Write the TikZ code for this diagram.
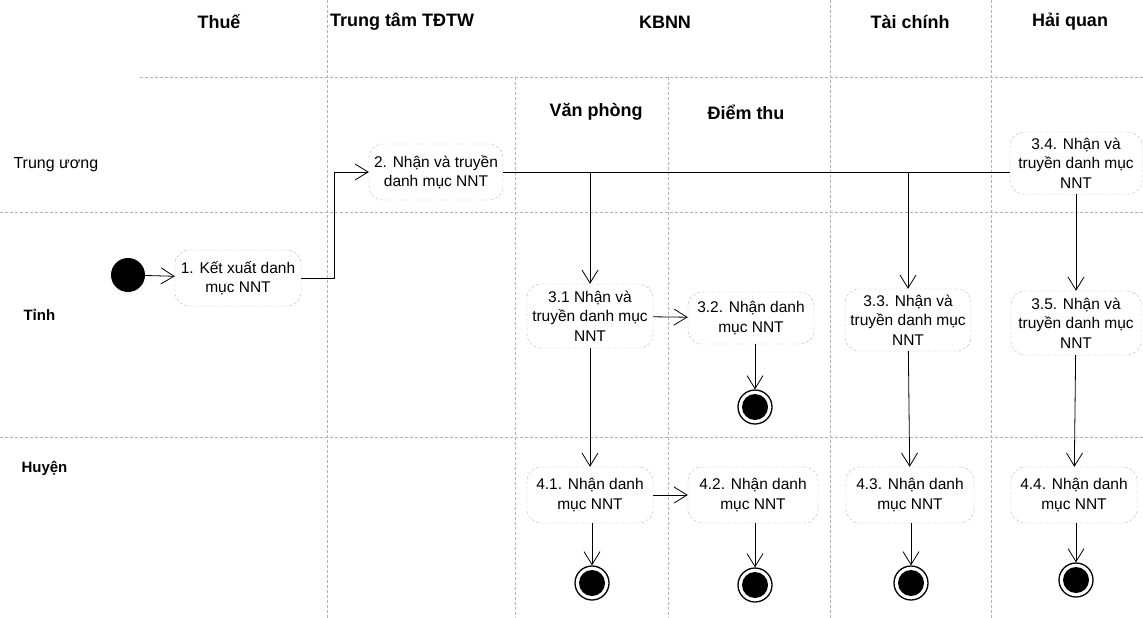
\documentclass[tikz,border=0pt]{standalone}
\usepackage{fontspec}
\setmainfont{Liberation Sans}
\usetikzlibrary{arrows.meta}

\begin{document}
\begin{tikzpicture}[x=1pt,y=-1pt,
	act/.style={draw=gray!55, densely dashed, rounded corners=14pt, align=center, minimum width=126pt, minimum height=56pt, inner sep=1pt, font=\fontsize{15.5}{19.5}\selectfont},
	startnode/.style={circle, fill=black, minimum size=34pt, inner sep=0pt},
	endnode/.style={circle, draw, line width=1.3pt, minimum size=34pt, inner sep=0pt, path picture={\fill (path picture bounding box.center) circle (13pt);}},
	lane/.style={draw=gray!60, densely dashed, line width=0.6pt},
	head/.style={font=\fontsize{18}{20}\selectfont\bfseries},
	row/.style={anchor=west, font=\fontsize{15}{17}\selectfont\bfseries},
	flow/.style={-{Straight Barb[length=13pt,width=16pt]}, line width=0.8pt}]
	
	\useasboundingbox (0,0) rectangle (1143,618);
	
	% swimlanes
	\draw[lane] (140,77) -- (1143,77);
	\draw[lane] (0,212) -- (1143,212);
	\draw[lane] (0,437) -- (1143,437);
	\draw[lane] (327,0) -- (327,618);
	\draw[lane] (515,77) -- (515,618);
	\draw[lane] (668,77) -- (668,618);
	\draw[lane] (830,0) -- (830,618);
	\draw[lane] (991,0) -- (991,618);
	
	\node[head] (thue) at (219,22) {Thuế};
	\node[head] (tdtw) at (402,22) {Trung tâm TĐTW};
	\node[head] (kbnn) at (665,22) {KBNN};
	\node[head] (taichinh) at (910,22) {Tài chính};
	\node[head] (haiquan) at (1070,22) {Hải quan};
	\node[head] (vanphong) at (596,112) {Văn phòng};
	\node[head] (diemthu) at (746,112) {Điểm thu};
	
	\node[row, font=\fontsize{16}{18}\selectfont] (tw) at (10,165) {Trung ương};
	\node[row] (tinh) at (20,315) {Tỉnh};
	\node[row] (huyen) at (18,468) {Huyện};
	
	% activities
	\node[startnode] (start) at (128,275) {};
	\node[act] (1) at (238,278) {1. Kết xuất danh\\mục NNT};
	\node[act, minimum width=134pt] (2) at (436,172) {2. Nhận và truyền\\danh mục NNT};
	\node[act, minimum height=64pt] (31) at (590,316) {3.1 Nhận và\\truyền danh mục\\NNT};
	\node[act, minimum height=52pt] (32) at (751,318) {3.2. Nhận danh\\mục NNT};
	\node[act, minimum height=62pt] (33) at (908,320) {3.3. Nhận và\\truyền danh mục\\NNT};
	\node[act, minimum width=132pt, minimum height=62pt] (34) at (1076,163) {3.4. Nhận và\\truyền danh mục\\NNT};
	\node[act, minimum width=130pt, minimum height=64pt] (35) at (1076,323) {3.5. Nhận và\\truyền danh mục\\NNT};
	\node[act] (41) at (590,495) {4.1. Nhận danh\\mục NNT};
	\node[act, minimum width=130pt] (42) at (753,495) {4.2. Nhận danh\\mục NNT};
	\node[act, minimum width=128pt] (43) at (910,495) {4.3. Nhận danh\\mục NNT};
	\node[act] (44) at (1074,495) {4.4. Nhận danh\\mục NNT};
	
	\node[endnode] (e32) at (755,407) {};
	\node[endnode] (e41) at (592,583) {};
	\node[endnode] (e42) at (755,585) {};
	\node[endnode] (e43) at (911,583) {};
	\node[endnode] (e44) at (1076,580) {};
	
	\coordinate (c12) at (334,172);
	
	% flows
	\path[flow] (start) edge (1);
	\draw[flow] (1.east) -| (c12) -- (2.west);
	\draw[line width=0.8pt] (2.east) -- (2.east -| 34.west);
	\draw[flow] (2.east -| 31.north) -- (31.north);
	\draw[flow] (2.east -| 33.north) -- (33.north);
	\path[flow] (34) edge (35);
	\path[flow] (31) edge (32);
	\path[flow] (31) edge (41);
	\path[flow] (33) edge (43);
	\path[flow] (35) edge (44);
	\path[flow] (41) edge (42);
	\draw[flow] (32.south -| e32) -- (e32);
	\draw[flow] (41.south -| e41) -- (e41);
	\draw[flow] (42.south -| e42) -- (e42);
	\draw[flow] (43.south -| e43) -- (e43);
	\draw[flow] (44.south -| e44) -- (e44);
	
\end{tikzpicture}
\end{document}
